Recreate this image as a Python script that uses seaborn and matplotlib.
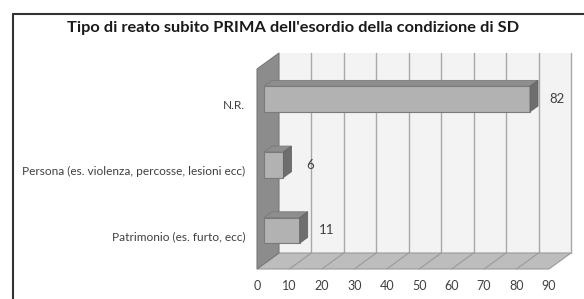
import matplotlib
matplotlib.use("Agg")
import matplotlib.pyplot as plt
from matplotlib.patches import Polygon
from matplotlib.lines import Line2D
import seaborn as sns

# --- data ---
categories = ["N.R.", "Persona (es. violenza, percosse, lesioni ecc)", "Patrimonio (es. furto, ecc)"]
values = [82, 6, 11]
xticks = [0, 10, 20, 30, 40, 50, 60, 70, 80, 90]
title = "Tipo di reato subito PRIMA dell'esordio della condizione di SD"

sns.set_style("white")
plt.rcParams['font.family'] = ['Lato', 'DejaVu Sans']

W, H = 584, 299
fig = plt.figure(figsize=(W / 100, H / 100), dpi=100)

# pixel mapping of the bar plane (front face of the bars)
X0, SX = 264, 3.244     # px of value 0, px per unit
Y0, SY = 99, 65.7       # px of first category, px per category
ax_l, ax_r, ax_t, ax_b = 250, 580, 40, 280
ax = fig.add_axes([ax_l / W, (H - ax_b) / H, (ax_r - ax_l) / W, (ax_b - ax_t) / H])

# depth offsets (front plane / back wall relative to the bar plane)
def shift(x, y, d):
    # d: 0 = front plane, 1 = back wall
    dx_px = -7 + 22 * d
    dy_px = 5 - 16 * d
    return (x + dx_px / SX, y + dy_px / SY)

floor_y = (269 - Y0) / SY - 5 / SY
top_y = (53 - Y0) / SY + 11 / SY
xmax = xticks[-1]

# back wall
ax.add_patch(Polygon([shift(0, top_y, 1), shift(xmax, top_y, 1), shift(xmax, floor_y, 1), shift(0, floor_y, 1)],
                     closed=True, facecolor="#f3f3f3", edgecolor="none", zorder=0.5))
for t in xticks[1:]:
    ax.plot(*zip(shift(t, top_y, 1), shift(t, floor_y, 1)), color="#a8a8a8", lw=1, zorder=0.6)

# floor
ax.add_patch(Polygon([shift(0, floor_y, 0), shift(xmax, floor_y, 0), shift(xmax, floor_y, 1), shift(0, floor_y, 1)],
                     closed=True, facecolor="#bdbdbd", edgecolor="#9a9a9a", lw=0.8, zorder=0.7))
for t in xticks[1:-1]:
    ax.plot(*zip(shift(t, floor_y, 0), shift(t, floor_y, 1)), color="#9a9a9a", lw=0.8, zorder=0.8)

# left wall
ax.add_patch(Polygon([shift(0, top_y, 0), shift(0, top_y, 1), shift(0, floor_y, 1), shift(0, floor_y, 0)],
                     closed=True, facecolor="#8c8c8c", edgecolor="#7a7a7a", lw=0.8, zorder=0.9))

# bars (front faces)
sns.barplot(x=values, y=categories, orient="h", color="#b2b2b2", saturation=1,
            width=0.39, edgecolor="#7a7a7a", linewidth=0.8, ax=ax)
bd = 8 / 22  # bar depth as share of full depth
for p in list(ax.patches):
    if p.get_zorder() < 1:
        continue
    p.set_zorder(3)
    x0, y0 = p.get_x(), p.get_y()
    x1, y1 = x0 + p.get_width(), y0 + p.get_height()
    ytop = min(y0, y1)
    ybot = max(y0, y1)
    ddx, ddy = 22 * bd / SX, -16 * bd / SY
    ax.add_patch(Polygon([(x0, ytop), (x1, ytop), (x1 + ddx, ytop + ddy), (x0 + ddx, ytop + ddy)],
                         closed=True, facecolor="#8e8e8e", edgecolor="#7a7a7a", lw=0.6, zorder=3))
    ax.add_patch(Polygon([(x1, ytop), (x1 + ddx, ytop + ddy), (x1 + ddx, ybot + ddy), (x1, ybot)],
                         closed=True, facecolor="#6e6e6e", edgecolor="#666666", lw=0.6, zorder=3))

# value labels
for i, v in enumerate(values):
    ax.text(v + 8.3, i, str(v), ha="center", va="center", fontsize=9.5, color="#404040", zorder=4)

# category labels
for i, c in enumerate(categories):
    ax.text((245 - X0) / SX, i + 0.1, c, ha="right", va="center", fontsize=8.6,
            color="#404040", clip_on=False)

# x tick labels on the front plane
for t in xticks:
    x, _ = shift(t, 0, 0)
    ax.text(x, (286 - Y0) / SY, str(t), ha="center", va="center", fontsize=9,
            color="#404040", clip_on=False)

ax.set_xlim((ax_l - X0) / SX, (ax_r - X0) / SX)
ax.set_ylim((ax_b - Y0) / SY, (ax_t - Y0) / SY)
ax.axis("off")

fig.text(293 / W, 1 - 28 / H, title, ha="center", va="center", fontsize=11.8,
         fontweight="bold", color="#1a1a1a")

# chart frame
fig.add_artist(Line2D([13 / W, 13 / W], [0, 1 - 14 / H], color="#333333", lw=1.5))
fig.add_artist(Line2D([13 / W, 1], [1 - 14 / H, 1 - 14 / H], color="#333333", lw=1.5))

fig.savefig("out.png", dpi=100)
